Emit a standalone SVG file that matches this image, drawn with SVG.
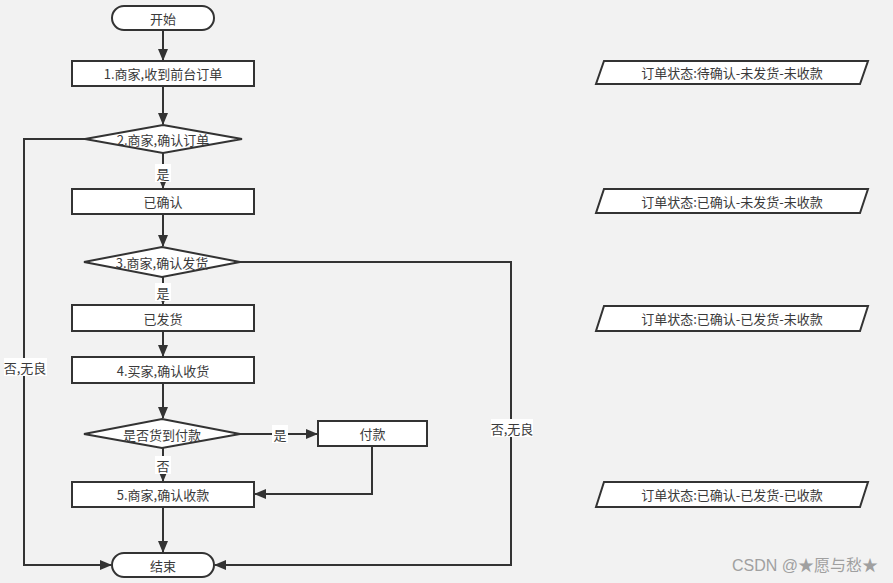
<svg xmlns="http://www.w3.org/2000/svg" width="893" height="583" viewBox="0 0 893 583">
<defs>
<style>
.n{fill:#fff;stroke:#333;stroke-width:2}
.t{font-family:"Microsoft YaHei","Noto Sans CJK SC",sans-serif;font-size:13px;fill:#3a3a3a;text-anchor:middle;dominant-baseline:central}
.c{fill:none;stroke:#333;stroke-width:2}
.lb{fill:#fff}
</style>
<marker id="a" markerUnits="userSpaceOnUse" markerWidth="12" markerHeight="10" refX="11" refY="5" orient="auto">
<path d="M0,0 L12,5 L0,10 z" fill="#333"/>
</marker>
</defs>
<rect width="893" height="583" fill="#f2f2f2"/>
<g id="connectors">
<path class="c" d="M163,30 V60" marker-end="url(#a)"/>
<path class="c" d="M163,86 V124" marker-end="url(#a)"/>
<path class="c" d="M163,153 V188" marker-end="url(#a)"/>
<path class="c" d="M85,139 H24 V565 H111" marker-end="url(#a)"/>
<path class="c" d="M163,214 V246" marker-end="url(#a)"/>
<path class="c" d="M163,277 V304" marker-end="url(#a)"/>
<path class="c" d="M240,262 H511 V565 H215" marker-end="url(#a)"/>
<path class="c" d="M163,331 V356" marker-end="url(#a)"/>
<path class="c" d="M163,383 V418" marker-end="url(#a)"/>
<path class="c" d="M240,434 H317" marker-end="url(#a)"/>
<path class="c" d="M163,448 V481" marker-end="url(#a)"/>
<path class="c" d="M372,446 V494 H255" marker-end="url(#a)"/>
<path class="c" d="M163,507 V552" marker-end="url(#a)"/>
<rect class="lb" x="155" y="164" width="16" height="18"/><text class="t" x="163" y="173">是</text>
<rect class="lb" x="155" y="283" width="16" height="18"/><text class="t" x="163" y="292">是</text>
<rect class="lb" x="272" y="425" width="16" height="18"/><text class="t" x="280" y="434">是</text>
<rect class="lb" x="155" y="456" width="16" height="18"/><text class="t" x="163" y="465">否</text>
<rect class="lb" x="4" y="358" width="43" height="18"/><text class="t" x="25" y="367">否,无良</text>
<rect class="lb" x="491" y="419" width="42" height="18"/><text class="t" x="512" y="428">否,无良</text>
</g>
<g id="start"><rect class="n" x="112" y="6" width="102" height="24" rx="12"/><text class="t" x="163" y="18">开始</text></g>
<g id="step1"><rect class="n" x="72" y="61" width="182" height="25"/><text class="t" x="163" y="73.5">1.商家,收到前台订单</text></g>
<g id="d2"><polygon class="n" points="163,125 242,139 163,153 85,139"/><text class="t" x="163" y="139">2.商家,确认订单</text></g>
<g id="confirmed"><rect class="n" x="72" y="189" width="182" height="25"/><text class="t" x="163" y="201.5">已确认</text></g>
<g id="d3"><polygon class="n" points="162,247 240,262 162,277 84,262"/><text class="t" x="162" y="262">3.商家,确认发货</text></g>
<g id="shipped"><rect class="n" x="72" y="305" width="182" height="26"/><text class="t" x="163" y="318">已发货</text></g>
<g id="step4"><rect class="n" x="72" y="357" width="182" height="26"/><text class="t" x="163" y="370">4.买家,确认收货</text></g>
<g id="d4"><polygon class="n" points="162,419 240,434 162,448 84,434"/><text class="t" x="162" y="434">是否货到付款</text></g>
<g id="pay"><rect class="n" x="318" y="421" width="109" height="25"/><text class="t" x="372.5" y="433.5">付款</text></g>
<g id="step5"><rect class="n" x="72" y="482" width="182" height="25"/><text class="t" x="163" y="494.5">5.商家,确认收款</text></g>
<g id="end"><rect class="n" x="112" y="553" width="102" height="24" rx="12"/><text class="t" x="163" y="565">结束</text></g>
<g id="s1"><polygon class="n" points="604,61 868,61 860,84 596,84"/><text class="t" x="732" y="72.5">订单状态:待确认-未发货-未收款</text></g>
<g id="s2"><polygon class="n" points="604,189 868,189 860,213 596,213"/><text class="t" x="732" y="201">订单状态:已确认-未发货-未收款</text></g>
<g id="s3"><polygon class="n" points="604,306 868,306 860,331 596,331"/><text class="t" x="732" y="318.5">订单状态:已确认-已发货-未收款</text></g>
<g id="s4"><polygon class="n" points="604,482 868,482 860,507 596,507"/><text class="t" x="732" y="494.5">订单状态:已确认-已发货-已收款</text></g>
<text x="878" y="571" font-family="'Liberation Sans','Noto Sans CJK SC',sans-serif" font-size="16" fill="#a0a0a0" text-anchor="end">CSDN @★愿与愁★</text>
</svg>
